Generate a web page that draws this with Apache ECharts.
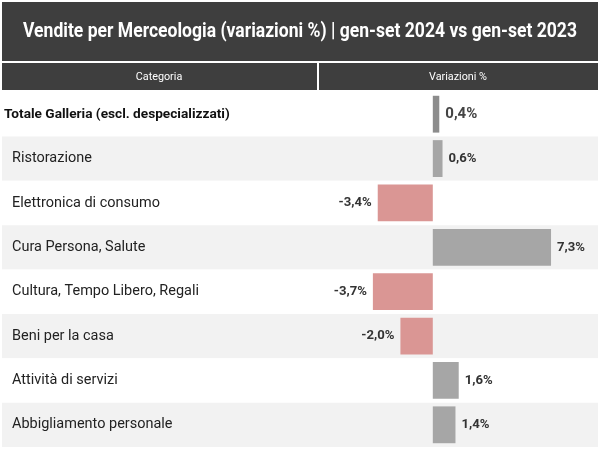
<!DOCTYPE html>
<html><head><meta charset="utf-8">
<script src="https://cdn.jsdelivr.net/npm/echarts@6/dist/echarts.min.js"></script>
<style>html,body{margin:0;padding:0;background:#fff}#c{width:600px;height:450px}</style>
</head><body><div id="c"></div>
<script>
var categories = ['Totale Galleria (escl. despecializzati)','Ristorazione','Elettronica di consumo','Cura Persona, Salute','Cultura, Tempo Libero, Regali','Beni per la casa','Attività di servizi','Abbigliamento personale'];
var values = [0.4, 0.6, -3.4, 7.3, -3.7, -2.0, 1.6, 1.4];
var titleText = 'Vendite per Merceologia (variazioni %) | gen-set 2024 vs gen-set 2023';
var headerLeft = 'Categoria';
var headerRight = 'Variazioni %';

var FONT = 'Roboto, "Liberation Sans", sans-serif';
function fmt(v){ return v.toFixed(1).replace('.', ',') + '%'; }

var mctx = document.createElement('canvas').getContext('2d');
function textW(text, weight, size){ mctx.font = weight + ' ' + size + 'px ' + FONT; return mctx.measureText(text).width; }
function fitSize(text, weight, target){ return +(100 * target / textW(text, weight, 100)).toFixed(2); }

var szNormal = fitSize('Elettronica di consumo', 'normal', 148);
var szBold = fitSize('Totale Galleria (escl. despecializzati)', 'bold', 226);
var szVal = fitSize('7,3%', 'bold', 28);
var szFirst = fitSize('0,4%', 'bold', 32);
var szHead = fitSize('Variazioni %', 'normal', 58);
var titleSize = 21;
var titleScale = 554 / textW(titleText, 'bold', titleSize);

var chart = echarts.init(document.getElementById('c'), null, {renderer:'canvas'});
chart.setOption({
  animation: false,
  graphic: [
    {type:'rect', shape:{x:2,y:2,width:596,height:59}, style:{fill:'#3e3e3e'}},
    {type:'text', x:300, y:32, scaleX:titleScale, originX:0, style:{text:titleText, fill:'#ffffff', font:'bold '+titleSize+'px '+FONT, align:'center', verticalAlign:'middle'}},
    {type:'rect', shape:{x:2,y:63,width:315,height:27}, style:{fill:'#3e3e3e'}},
    {type:'rect', shape:{x:319,y:63,width:279,height:27}, style:{fill:'#3e3e3e'}},
    {type:'text', x:159, y:77, style:{text:headerLeft, fill:'#ffffff', font:szHead+'px '+FONT, align:'center', verticalAlign:'middle'}},
    {type:'text', x:458, y:77, style:{text:headerRight, fill:'#ffffff', font:szHead+'px '+FONT, align:'center', verticalAlign:'middle'}}
  ],
  grid: {left:2, right:2, top:92, bottom:3},
  xAxis: {type:'value', min:-26.6, max:10.2, show:false, splitLine:{show:false}},
  yAxis: {
    type:'category', inverse:true, data:categories,
    axisLine:{show:false}, axisTick:{show:false},
    splitArea:{show:true, areaStyle:{color:['#ffffff','#f2f2f2']}},
    axisLabel:{
      inside:true, margin:0,
      formatter:function(v, i){ return i===0 ? '{b|'+v+'}' : '{n|'+v+'}'; },
      rich:{
        b:{fontFamily:FONT, fontSize:szBold, fontWeight:'bold', color:'#111', padding:[0,0,0,2]},
        n:{fontFamily:FONT, fontSize:szNormal, color:'#222', padding:[0,0,0,10]}
      }
    }
  },
  series: [{
    type:'bar', barWidth:'83%',
    data: values.map(function(v,i){
      var d = {value:v, itemStyle:{color: v<0 ? '#da9694' : (i===0 ? '#8c8c8c' : '#a6a6a6')}};
      if (v<0) d.label = {position:'left'};
      if (i===0) d.label = {fontSize:szFirst, color:'#444'};
      return d;
    }),
    label:{
      show:true, fontFamily:FONT, fontSize:szVal, fontWeight:'bold', color:'#333',
      formatter:function(p){ return fmt(p.value); },
      position:'right', distance:6
    }
  }]
});
</script></body></html>
